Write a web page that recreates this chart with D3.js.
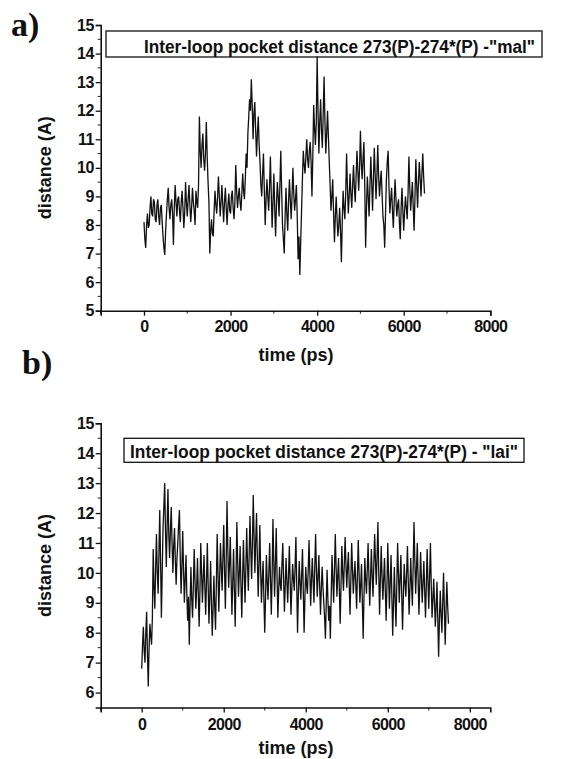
<!DOCTYPE html>
<html>
<head>
<meta charset="utf-8">
<script src="https://cdn.jsdelivr.net/npm/d3@7"></script>
<style>
  body { margin: 0; background: #fff; }
  text { font-family: "Liberation Sans", Arial, sans-serif; font-weight: bold; fill: #111; }
</style>
</head>
<body>
<svg id="chart" width="562" height="759"></svg>
<script>
//time step of both runs (ps)
var stepA = 20;
var stepB = 20;
//panel a) distance values, one every 20 ps starting at 0 (10 per row = 200 ps)
var distA = [
  8.1, 7.5, 7.2, 8.0, 8.4, 7.9, 8.0, 8.6, 9.0, 8.4,
  8.3, 8.9, 8.8, 8.2, 8.1, 8.7, 8.9, 8.3, 8.0, 8.6,
  8.7, 8.1, 7.6, 7.2, 6.95, 7.8, 8.4, 8.9, 9.3, 8.6,
  8.2, 8.7, 8.9, 8.4, 7.3, 8.6, 9.4, 8.8, 8.3, 8.9,
  9.0, 8.5, 8.1, 8.8, 9.2, 8.6, 7.9, 8.4, 9.5, 8.8,
  8.3, 8.9, 9.4, 8.7, 8.1, 8.6, 9.3, 8.8, 8.5, 8.0,
  9.2, 8.8, 8.6, 9.4, 11.8, 10.6, 10.0, 10.8, 11.2, 10.3,
  9.9, 10.5, 11.6, 10.4, 9.5, 8.8, 7.0, 7.8, 8.2, 7.7,
  7.6, 8.5, 9.2, 8.7, 8.4, 9.0, 9.7, 9.0, 8.3, 8.8,
  9.4, 8.7, 8.1, 8.8, 9.3, 8.6, 8.0, 8.7, 9.1, 8.5,
  8.4, 9.0, 9.2, 8.6, 8.2, 8.8, 10.1, 9.2, 8.6, 9.0,
  9.3, 8.8, 8.5, 9.1, 9.8, 9.2, 8.9, 9.6, 10.5, 10.0,
  11.2, 11.8, 12.4, 12.0, 13.1, 12.2, 11.0, 11.9, 12.3, 11.3,
  10.4, 11.2, 11.8, 10.8, 10.2, 9.4, 9.0, 9.8, 10.5, 9.2,
  8.0, 8.9, 9.6, 9.0, 8.5, 9.3, 10.4, 9.1, 7.9, 8.8,
  9.8, 8.6, 7.6, 8.7, 9.5, 9.0, 8.3, 9.4, 10.6, 9.2,
  8.0, 7.5, 7.0, 8.3, 9.3, 8.4, 7.8, 8.8, 9.6, 8.9,
  8.2, 9.0, 10.0, 9.1, 8.5, 8.9, 9.4, 8.3, 6.8, 7.6,
  6.25, 7.4, 8.5, 9.6, 10.6, 10.1, 9.8, 10.4, 11.0, 10.3,
  10.0, 10.6, 10.9, 10.2, 9.0, 10.4, 12.2, 11.4, 10.8, 11.6,
  13.9, 12.0, 10.5, 11.6, 12.4, 11.3, 10.7, 11.9, 13.2, 11.6,
  10.5, 11.2, 12.0, 11.1, 10.2, 9.4, 8.5, 9.0, 9.6, 8.4,
  7.4, 8.3, 9.0, 8.2, 7.6, 8.0, 8.6, 7.8, 6.7, 8.1,
  9.2, 8.6, 8.2, 9.1, 10.5, 9.3, 8.4, 9.0, 9.8, 9.1,
  8.6, 9.4, 10.1, 9.3, 8.8, 9.7, 10.6, 9.9, 9.2, 10.0,
  11.3, 10.2, 9.6, 10.3, 10.9, 9.4, 7.2, 8.6, 9.7, 9.0,
  8.3, 9.4, 10.4, 9.5, 8.5, 9.6, 10.7, 9.8, 8.9, 9.7,
  10.8, 9.7, 9.0, 9.5, 9.9, 9.1, 8.3, 8.0, 7.2, 8.4,
  9.6, 10.2, 10.6, 9.3, 8.4, 8.9, 9.3, 8.5, 7.9, 8.8,
  9.6, 8.9, 8.3, 8.7, 8.9, 8.1, 7.5, 8.6, 9.3, 8.5,
  7.8, 8.5, 9.0, 8.6, 8.2, 9.1, 10.4, 9.3, 8.5, 9.0,
  9.5, 8.6, 7.8, 9.0, 10.3, 9.4, 8.6, 9.5, 10.2, 9.6,
  9.0, 9.8, 10.5, 9.7, 9.1
];
//panel b) distance values, one every 20 ps starting at 0 (10 per row = 200 ps)
var distB = [
  6.8, 7.6, 8.2, 7.4, 7.0, 8.0, 8.7, 7.3, 6.2, 7.5,
  8.3, 7.9, 7.6, 8.5, 10.8, 9.5, 8.8, 10.2, 11.3, 10.0,
  9.3, 10.6, 12.1, 10.4, 8.5, 10.0, 11.5, 12.2, 13.0, 11.4,
  10.2, 11.6, 12.8, 11.3, 10.5, 11.4, 12.2, 11.0, 10.0, 10.9,
  11.5, 10.4, 9.6, 10.5, 11.0, 11.6, 12.1, 10.5, 9.3, 10.2,
  11.4, 10.1, 9.0, 9.8, 10.6, 9.3, 8.4, 9.2, 7.6, 9.0,
  10.2, 9.1, 8.5, 9.6, 10.8, 9.7, 8.8, 9.5, 10.5, 9.3,
  8.2, 9.4, 11.0, 10.0, 9.0, 9.8, 10.6, 9.5, 8.6, 9.7,
  11.0, 9.6, 8.3, 9.2, 10.4, 9.0, 7.9, 8.8, 9.9, 8.9,
  8.1, 9.6, 11.3, 10.0, 8.7, 9.8, 11.0, 10.2, 9.4, 10.5,
  11.6, 10.1, 8.8, 10.4, 12.4, 10.8, 9.5, 10.3, 11.2, 9.8,
  8.6, 9.7, 10.8, 9.4, 8.2, 9.9, 11.7, 10.4, 9.2, 10.0,
  10.9, 9.6, 8.5, 9.8, 11.1, 10.0, 9.0, 10.2, 11.5, 10.3,
  9.4, 10.6, 11.9, 10.8, 9.8, 11.0, 12.6, 11.2, 10.0, 11.1,
  12.0, 10.5, 9.2, 10.3, 11.6, 10.1, 9.0, 9.8, 10.4, 9.1,
  8.0, 9.2, 10.6, 9.7, 9.1, 10.0, 11.0, 9.8, 8.6, 9.9,
  11.8, 10.4, 9.2, 10.3, 11.5, 9.9, 8.5, 9.4, 10.2, 9.6,
  9.4, 10.3, 11.0, 9.8, 8.7, 9.6, 10.5, 9.7, 9.0, 9.9,
  10.9, 9.7, 8.6, 9.5, 10.3, 9.8, 9.4, 10.2, 11.2, 9.6,
  8.0, 9.3, 10.4, 9.7, 9.1, 9.9, 10.8, 9.4, 8.0, 9.2,
  10.2, 9.6, 9.3, 10.1, 11.1, 10.0, 8.9, 9.8, 10.5, 9.7,
  9.0, 10.2, 11.3, 10.1, 9.2, 9.9, 10.6, 9.5, 8.6, 9.5,
  10.2, 9.5, 9.0, 8.5, 7.8, 9.0, 10.1, 9.1, 8.4, 8.9,
  7.8, 9.2, 10.6, 9.8, 9.0, 10.1, 11.3, 10.2, 9.2, 9.9,
  10.5, 9.4, 8.3, 9.6, 10.9, 10.0, 9.4, 10.3, 11.2, 10.3,
  9.5, 10.2, 10.7, 9.6, 8.6, 9.8, 11.0, 10.1, 9.3, 9.9,
  10.4, 9.6, 8.8, 9.9, 11.1, 10.0, 9.0, 9.6, 10.3, 9.0,
  7.8, 9.2, 10.5, 9.8, 9.3, 10.1, 11.0, 9.9, 8.9, 9.8,
  10.8, 9.9, 9.2, 10.3, 11.3, 10.4, 9.6, 10.6, 11.7, 10.0,
  8.6, 9.8, 10.9, 9.9, 9.1, 9.8, 10.5, 9.4, 8.4, 9.6,
  11.0, 9.9, 8.8, 9.7, 10.6, 9.2, 7.9, 9.0, 10.2, 9.1,
  8.2, 9.6, 11.0, 10.0, 9.0, 9.8, 10.6, 9.3, 8.1, 9.2,
  10.3, 9.7, 9.2, 10.0, 10.9, 9.7, 8.6, 9.5, 10.5, 9.6,
  8.9, 10.3, 11.7, 10.4, 9.3, 10.1, 11.0, 9.8, 8.6, 9.6,
  10.7, 9.8, 9.0, 9.7, 10.4, 9.4, 8.5, 9.6, 10.8, 9.7,
  8.8, 9.9, 11.0, 9.6, 8.5, 9.1, 9.8, 9.0, 8.2, 8.9,
  9.7, 8.4, 7.2, 8.5, 9.4, 8.6, 8.0, 9.0, 10.0, 8.8,
  7.6, 8.7, 9.7, 8.9, 8.3
];
//axis ticks
var xTicks = [0, 2000, 4000, 6000, 8000];
var xMinor = [-1000, 1000, 3000, 5000, 7000];
var yTicksA = [5, 6, 7, 8, 9, 10, 11, 12, 13, 14, 15];
var yTicksB = [6, 7, 8, 9, 10, 11, 12, 13, 14, 15];
//legend texts
var legendA = "Inter-loop pocket distance 273(P)-274*(P) -\"mal\"";
var legendB = "Inter-loop pocket distance 273(P)-274*(P) - \"lai\"";

var svg = d3.select("#chart");

//draw one panel
function drawPanel(p) {
  var x = d3.scaleLinear().domain(p.xDomain).range([100.7, 490.3]);
  var y = d3.scaleLinear().domain(p.yDomain).range(p.yRange);
  var g = svg.append("g");
  var pts = p.values.map(function(v, i) { return [i * p.step, v]; });

  // -- minor ticks
  var yMinor = d3.range(Math.ceil(p.yDomain[0]) + 0.5, p.yDomain[1], 1);
  g.selectAll(".ym").data(yMinor).enter().append("line")
    .attr("x1", x.range()[0] - 3).attr("x2", x.range()[0])
    .attr("y1", function(d) { return y(d); }).attr("y2", function(d) { return y(d); })
    .attr("stroke", "#222").attr("stroke-width", 1);
  g.selectAll(".xm").data(xMinor).enter().append("line")
    .attr("x1", function(d) { return x(d); }).attr("x2", function(d) { return x(d); })
    .attr("y1", y.range()[0]).attr("y2", y.range()[0] + 3)
    .attr("stroke", "#222").attr("stroke-width", 1);

  // -- y axis
  var ya = g.append("g")
    .attr("transform", "translate(" + x.range()[0] + ",0)")
    .call(d3.axisLeft(y).tickValues(p.yTicks).tickSize(5).tickPadding(2).tickFormat(d3.format("d")));
  // -- x axis
  var xa = g.append("g")
    .attr("transform", "translate(0," + y.range()[0] + ")")
    .call(d3.axisBottom(x).tickValues(xTicks).tickSize(5).tickPadding(p.xPad).tickFormat(d3.format("d")));
  [ya, xa].forEach(function(a) {
    a.select(".domain").attr("stroke", "#111").attr("stroke-width", 1.6);
    a.selectAll(".tick line").attr("stroke", "#111").attr("stroke-width", 1.3);
    a.selectAll(".tick text")
      .style("font-size", "16px")
      .style("letter-spacing", "-0.6px")
      .style("font-family", "\"Liberation Sans\", Arial, sans-serif")
      .style("font-weight", "bold")
      .attr("fill", "#111");
  });

  // -- legend box
  g.append("rect")
    .attr("x", p.box[0]).attr("y", p.box[1])
    .attr("width", p.box[2]).attr("height", p.box[3])
    .attr("fill", "#fff").attr("stroke", "#111").attr("stroke-width", 1.3);
  g.append("text")
    .attr("x", p.legendX).attr("y", p.legendY)
    .attr("textLength", p.legendW).attr("lengthAdjust", "spacingAndGlyphs")
    .style("font-size", "18px")
    .text(p.legend);

  // -- data line
  var line = d3.line()
    .x(function(d) { return x(d[0]); })
    .y(function(d) { return y(d[1]); });
  g.append("path")
    .datum(pts)
    .attr("d", line)
    .attr("fill", "none")
    .attr("stroke", "#111")
    .attr("stroke-width", 1.3);

  // -- axis titles
  g.append("text")
    .attr("x", 296).attr("y", p.xTitleY)
    .attr("text-anchor", "middle")
    .style("font-size", "18px")
    .text("time (ps)");
  g.append("text")
    .attr("transform", "translate(51," + ((y.range()[0] + y.range()[1]) / 2) + ") rotate(-90)")
    .attr("text-anchor", "middle")
    .style("font-size", "18px")
    .text("distance (A)");

  // -- panel letter
  g.append("text")
    .attr("x", p.letterX).attr("y", p.letterY)
    .style("font-family", "\"Liberation Serif\", \"Times New Roman\", serif")
    .style("font-size", "34px")
    .text(p.letter);
}

drawPanel({
  values: distA, step: stepA,
  xDomain: [-1000, 8000], yDomain: [5, 15], yRange: [310.7, 25], yTicks: yTicksA, xPad: 5,
  box: [106, 31, 436, 26], legend: legendA, legendX: 144, legendY: 53, legendW: 391,
  xTitleY: 361, letter: "a)", letterX: 11, letterY: 36
});
drawPanel({
  values: distB, step: stepB,
  xDomain: [-1000, 8500], yDomain: [5.5, 15], yRange: [707.5, 423.3], yTicks: yTicksB, xPad: 6,
  box: [124, 438.3, 400, 24], legend: legendB, legendX: 130, legendY: 458, legendW: 388,
  xTitleY: 754, letter: "b)", letterX: 22, letterY: 374
});
</script>
</body>
</html>
